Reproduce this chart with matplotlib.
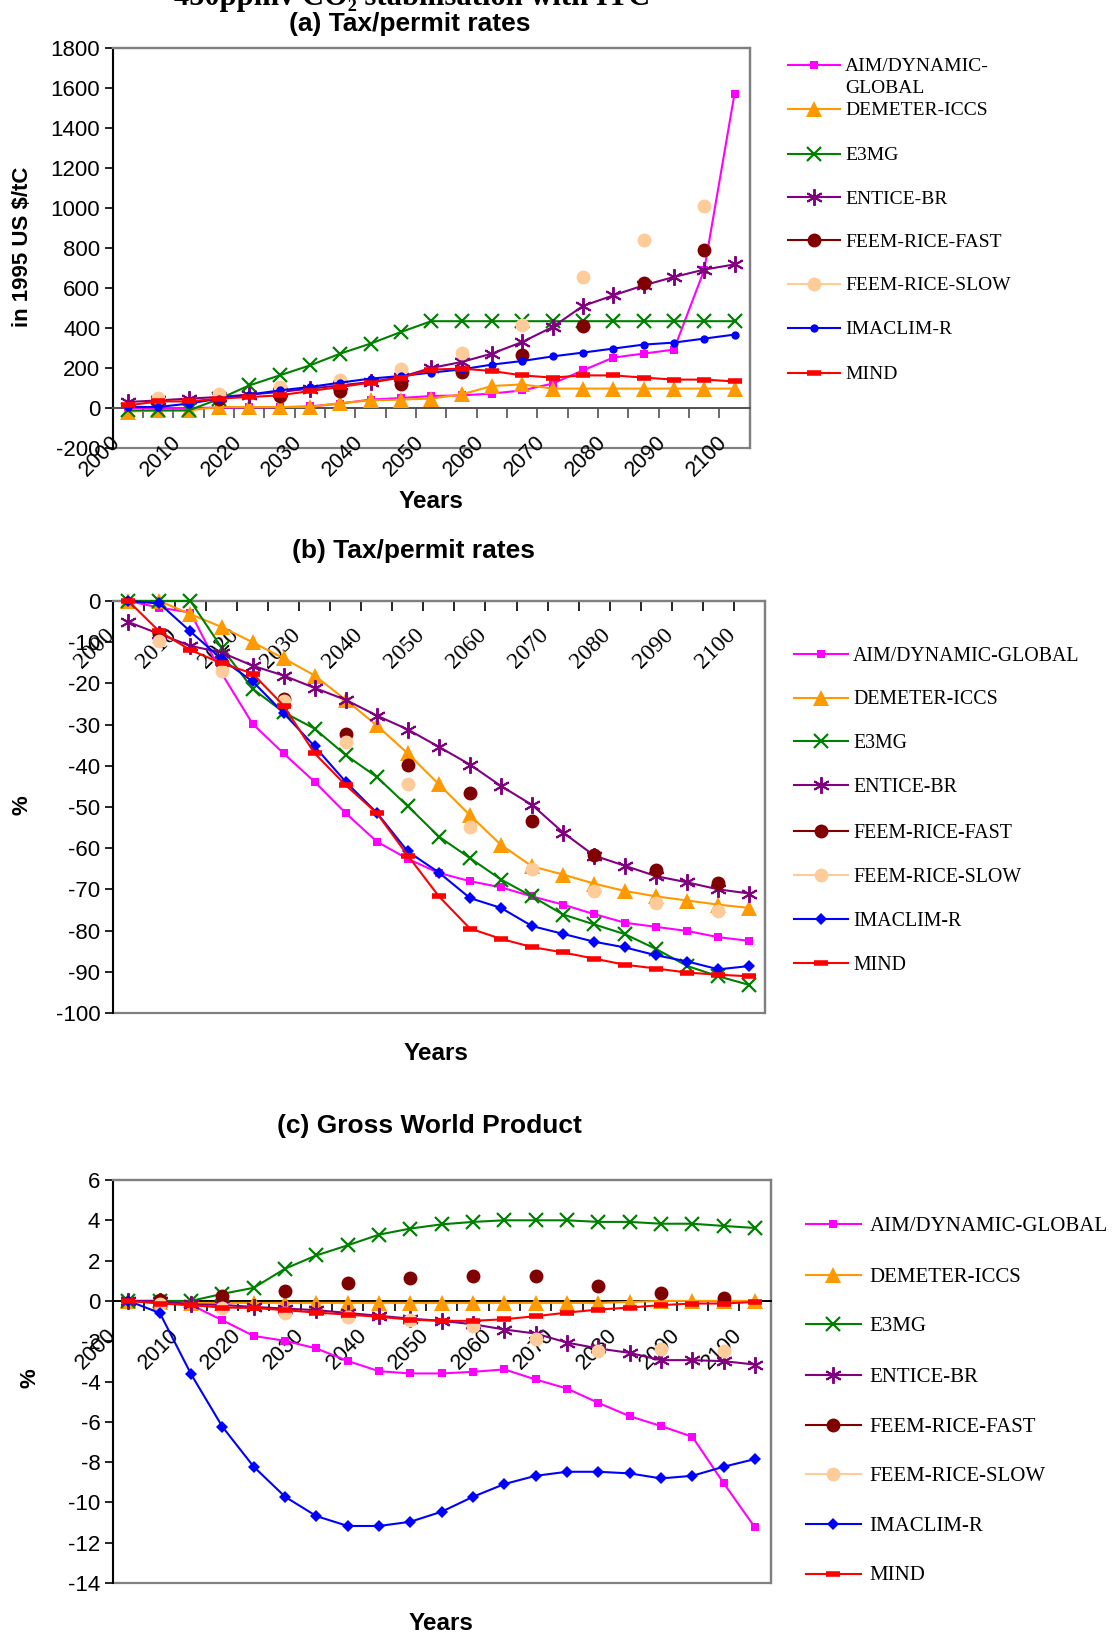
import matplotlib
matplotlib.use('Agg')
import matplotlib.pyplot as plt
from matplotlib.lines import Line2D
from matplotlib.patches import Rectangle
from matplotlib.transforms import ScaledTranslation
import numpy as np

W, H = 1112, 1637
plt.rcParams['font.family'] = ['Liberation Sans', 'DejaVu Sans']
plt.rcParams['axes.unicode_minus'] = False

years = list(range(2000, 2101, 5))
year_labels = [str(y) for y in years[::2]]
feem_years = list(range(2005, 2100, 10))

names = ['AIM/DYNAMIC-GLOBAL', 'DEMETER-ICCS', 'E3MG', 'ENTICE-BR',
         'FEEM-RICE-FAST', 'FEEM-RICE-SLOW', 'IMACLIM-R', 'MIND']

# (a) tax/permit rates, 1995 US $/tC
aim_a = [0, 0, 0, 2, 3, 4, 8, 22, 42, 50, 60, 63, 72, 88, 122, 188, 252, 272, 292, 690, 1572]
dem_a = [-18, -12, -12, 5, 5, 5, 5, 25, 38, 42, 47, 68, 110, 118, 97, 97, 97, 97, 97, 97, 97]
e3_a = [-12, -12, -12, 45, 113, 163, 213, 272, 322, 380, 434, 434, 434, 434, 434, 434, 434, 434, 434, 434, 434]
ent_a = [30, 38, 47, 55, 67, 80, 97, 113, 130, 155, 200, 230, 272, 330, 405, 510, 563, 613, 655, 692, 718]
ffast_a = [33, 47, 58, 83, 122, 180, 267, 410, 627, 788]
fslow_a = [50, 72, 105, 138, 197, 277, 417, 655, 838, 1010]
ima_a = [5, 5, 22, 47, 67, 88, 105, 127, 147, 160, 177, 193, 217, 235, 258, 277, 297, 317, 327, 347, 367]
mind_a = [13, 33, 33, 47, 55, 63, 85, 105, 127, 152, 192, 197, 185, 163, 152, 163, 163, 152, 142, 142, 133]

# (b) %
aim_b = [0, -1.6, -2.8, -17.5, -29.8, -37, -43.9, -51.5, -58.4, -62.6, -66, -68, -69.5, -71.7, -73.7, -76, -78.1, -79.1, -80.1, -81.6, -82.5]
dem_b = [0, 0, -3.2, -6.3, -10, -13.9, -18.1, -24, -30.2, -37, -44.5, -52, -59.2, -64.4, -66.4, -68.6, -70.4, -71.7, -72.7, -73.7, -74.5]
e3_b = [0, 0, 0, -11.3, -21.3, -27, -31, -37.4, -42.7, -49.8, -57.2, -62.4, -67.6, -71.7, -76.1, -78.5, -80.9, -84.5, -88.6, -91.1, -93.2]
ent_b = [-5.1, -8, -10.9, -12.5, -15.7, -18.1, -21.1, -24, -27.8, -31.2, -35.4, -39.7, -44.9, -49.5, -56.2, -61.8, -64.3, -66.8, -68.3, -70, -71]
ffast_b = [-8, -15, -23.8, -32.4, -39.9, -46.7, -53.4, -61.6, -65.4, -68.4]
fslow_b = [-9.7, -16.9, -24.2, -34.2, -44.3, -54.9, -65, -70.5, -73.3, -75.3]
ima_b = [0, -0.6, -7.4, -14.1, -19.5, -27.2, -35.3, -43.9, -51.4, -60.8, -65.9, -72.1, -74.5, -78.9, -80.8, -82.7, -84.1, -86, -87.5, -89.4, -88.6]
mind_b = [0, -7.4, -11.9, -15.1, -17.6, -25.4, -37, -44.7, -51.5, -61.8, -71.7, -79.5, -82, -84, -85.3, -86.8, -88.3, -89.2, -90.2, -90.7, -91.1]

# (c) gross world product, %
aim_c = [0, -0.1, -0.2, -0.96, -1.74, -1.98, -2.36, -2.98, -3.49, -3.6, -3.6, -3.52, -3.4, -3.9, -4.35, -5.06, -5.72, -6.21, -6.74, -9.04, -11.24]
dem_c = [0, -0.05, -0.1, -0.1, -0.1, -0.1, -0.1, -0.1, -0.1, -0.1, -0.1, -0.1, -0.1, -0.1, -0.1, -0.1, -0.05, 0, 0, 0, 0]
e3_c = [0, 0, 0, 0.35, 0.65, 1.6, 2.26, 2.76, 3.29, 3.59, 3.8, 3.92, 4.0, 4.0, 4.0, 3.92, 3.92, 3.83, 3.83, 3.72, 3.62]
ent_c = [0, 0, -0.17, -0.2, -0.3, -0.38, -0.46, -0.6, -0.74, -0.88, -0.99, -1.16, -1.42, -1.62, -2.07, -2.36, -2.58, -2.94, -2.94, -2.99, -3.16]
ffast_c = [0.05, 0.23, 0.5, 0.91, 1.14, 1.22, 1.22, 0.73, 0.41, 0.12]
fslow_c = [-0.13, -0.35, -0.6, -0.79, -0.96, -1.26, -1.87, -2.5, -2.4, -2.5]
ima_c = [0, -0.6, -3.64, -6.25, -8.23, -9.72, -10.68, -11.17, -11.17, -10.96, -10.46, -9.72, -9.09, -8.68, -8.48, -8.48, -8.56, -8.81, -8.68, -8.23, -7.85]
mind_c = [0, -0.13, -0.21, -0.33, -0.35, -0.46, -0.58, -0.68, -0.79, -0.93, -0.99, -0.99, -0.91, -0.76, -0.58, -0.43, -0.33, -0.21, -0.13, -0.13, -0.05]

colors = ['#FF00FF', '#FF9900', '#008000', '#800080', '#800000', '#FFCC99', '#0000FF', '#FF0000']
ASTER = (6, 2, 0)


def styles(ima_marker):
    return [
        dict(marker='s', ms=6, mew=0),
        dict(marker='^', ms=11, mew=0),
        dict(marker='x', ms=10, mew=1.6),
        dict(marker=ASTER, ms=12, mew=1.4),
        dict(marker='o', ms=10, mew=0),
        dict(marker='o', ms=10, mew=0),
        dict(marker=ima_marker, ms=6 if ima_marker == 'o' else 6.5, mew=0),
        dict(marker='_', ms=10, mew=4),
    ]


fig = plt.figure(figsize=(W / 100, H / 100), dpi=100)


def fx(px):
    return px / W


def fy(py):
    return 1 - py / H


def make_axes(left, right, top, bottom, ylim, ystep, zero_color, xlab_family, xlab_size, shift):
    ax = fig.add_axes([fx(left), fy(bottom), (right - left) / W, (bottom - top) / H])
    ax.set_xlim(-0.5, 20.5)
    ax.set_ylim(*ylim)
    for s in ['top', 'right']:
        ax.spines[s].set_color('#808080')
        ax.spines[s].set_linewidth(1.6)
    ax.spines['left'].set_color('black')
    ax.spines['left'].set_linewidth(1.4)
    ax.spines['bottom'].set_position(('data', 0))
    ax.spines['bottom'].set_color(zero_color)
    ax.spines['bottom'].set_linewidth(1.4)
    ax.add_patch(Rectangle((0, 0), 1, 1, transform=ax.transAxes, fill=False,
                           ec='#808080', lw=1.6, zorder=0.5, clip_on=False))
    ax.set_yticks(np.arange(ylim[0], ylim[1] + ystep / 2, ystep))
    ax.tick_params(axis='y', direction='out', length=6, width=1.2, labelsize=16, pad=3)
    ax.set_xticks(range(0, 21, 2))
    ax.set_xticklabels(year_labels, rotation=45, ha='right', va='top',
                       fontsize=xlab_size, family=xlab_family)
    ax.set_xticks(np.arange(-0.5, 21, 1), minor=True)
    ax.tick_params(axis='x', which='major', length=0, pad=17)
    ax.tick_params(axis='x', which='minor', direction='out', length=7, width=1.2,
                   color=zero_color)
    off = ScaledTranslation(-shift / 100, 0, fig.dpi_scale_trans)
    for lbl in ax.get_xticklabels():
        lbl.set_transform(lbl.get_transform() + off)
    return ax


def plot_series(ax, series, ima_marker):
    xi = np.arange(21)
    fi = np.arange(1, 21, 2)
    st = styles(ima_marker)
    for k, (vals, c) in enumerate(zip(series, colors)):
        if k in (4, 5):
            ax.plot(fi, vals, ls='none', color=c, mec=c, clip_on=False, zorder=3, **st[k])
        else:
            ax.plot(xi, vals, '-', lw=1.5, color=c, mec=c, clip_on=False, zorder=3, **st[k])


def draw_legend(x0, x1, xt, ys, fs, ima_marker, wrap_first=False):
    st = styles(ima_marker)
    for k, (name, y) in enumerate(zip(names, ys)):
        c = colors[k]
        fig.add_artist(Line2D([fx(x0), fx(x1)], [fy(y), fy(y)], transform=fig.transFigure,
                              color=c, lw=1.5))
        fig.add_artist(Line2D([fx((x0 + x1) / 2)], [fy(y)], transform=fig.transFigure,
                              color=c, mec=c, **st[k]))
        if k == 0 and wrap_first:
            fig.text(fx(xt), fy(y), 'AIM/DYNAMIC-', va='center_baseline', fontsize=fs,
                     family='Liberation Serif')
            fig.text(fx(xt), fy(y + 22), 'GLOBAL', va='center_baseline', fontsize=fs,
                     family='Liberation Serif')
        else:
            fig.text(fx(xt), fy(y), name, va='center_baseline', fontsize=fs,
                     family='Liberation Serif')


# top heading, mostly cut off by the page edge
fig.text(fx(412), fy(5), '450ppmv CO\u2082 stabilisation with ITC', ha='center',
         va='baseline', fontsize=22, fontweight='bold',
         family=['Liberation Serif', 'DejaVu Serif'])

# panel (a)
ax_a = make_axes(112.8, 749.7, 48, 448, (-200, 1800), 200, '#505050', 'Liberation Sans', 15.5, 3)
plot_series(ax_a, [aim_a, dem_a, e3_a, ent_a, ffast_a, fslow_a, ima_a, mind_a], 'o')
fig.text(fx(410), fy(24), '(a) Tax/permit rates', ha='center', va='center',
         fontsize=19, fontweight='bold')
fig.text(fx(23), fy(247), 'in 1995 US $/tC', ha='center', va='center', rotation=90,
         fontsize=16, fontweight='bold')
fig.text(fx(431), fy(501), 'Years', ha='center', va='center', fontsize=17.5, fontweight='bold')
draw_legend(788, 840, 845, [64.7, 108.6, 153.5, 197.3, 240.1, 284, 327.8, 372.7], 14,
            'o', wrap_first=True)

# panel (b)
ax_b = make_axes(112.8, 765, 601, 1013, (-100, 0), 10, 'black', 'Liberation Serif', 17, 10)
plot_series(ax_b, [aim_b, dem_b, e3_b, ent_b, ffast_b, fslow_b, ima_b, mind_b], 'D')
fig.text(fx(413.5), fy(551), '(b) Tax/permit rates', ha='center', va='center',
         fontsize=19, fontweight='bold')
fig.text(fx(22), fy(805), '%', ha='center', va='center', rotation=90,
         fontsize=16, fontweight='bold')
fig.text(fx(436), fy(1053.5), 'Years', ha='center', va='center', fontsize=17.5, fontweight='bold')
draw_legend(793.5, 848, 853, [653.6, 697.5, 741.3, 785.2, 831.1, 875, 918.8, 962.7], 14.3, 'D')

# panel (c)
ax_c = make_axes(112.8, 770.6, 1180, 1583, (-14, 6), 2, 'black', 'Liberation Sans', 15.5, 8)
plot_series(ax_c, [aim_c, dem_c, e3_c, ent_c, ffast_c, fslow_c, ima_c, mind_c], 'D')
fig.text(fx(429), fy(1126), '(c) Gross World Product', ha='center', va='center',
         fontsize=19, fontweight='bold')
fig.text(fx(30), fy(1378), '%', ha='center', va='center', rotation=90,
         fontsize=16, fontweight='bold')
fig.text(fx(440.6), fy(1623.6), 'Years', ha='center', va='center', fontsize=17.5, fontweight='bold')
draw_legend(806, 861, 869.7, [1223.7, 1274.9, 1324, 1375, 1425.2, 1474.3, 1524.4, 1573.5],
            15, 'D')

fig.savefig('out.png', dpi=100)
